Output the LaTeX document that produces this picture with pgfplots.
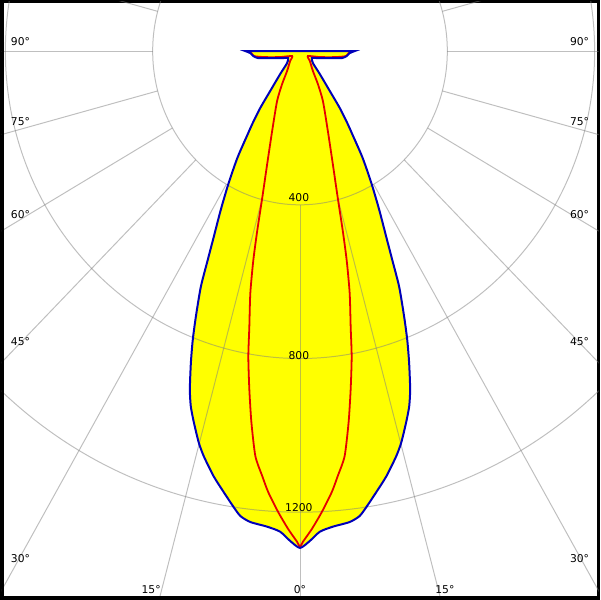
\documentclass[border=0pt]{standalone}
\usepackage{fontspec}
\setmainfont{DejaVu Sans}
\usepackage{pgfplots}
\usepackage{pgfplotstable}
\pgfplotsset{compat=1.18}
\definecolor{ldcblue}{RGB}{0,0,185}
\definecolor{ldcred}{RGB}{230,0,0}
\definecolor{ldcyellow}{RGB}{255,255,0}
\definecolor{gridgray}{RGB}{128,128,128}

% C0-C180 plane (outer curve), angle (deg) and intensity (cd)
\pgfplotstableread{
a I
-90 148
-87.8 135
-84.1 127
-80.9 115
-77.4 83
-68.4 49
-60.7 37
-48.4 47
-42.1 80
-37.99 131
-36.12 183
-34.38 229
-33.42 255
-31.49 325
-29.39 396
-27.48 467
-25.83 538
-24.74 599
-23.70 670
-22.25 747
-21.18 806
-20.08 863
-18.76 930
-17.78 971
-16.62 1008
-15.11 1055
-13.93 1086
-11.97 1131
-10.25 1166
-8.65 1200
-7.61 1221
-6.28 1233
-4.11 1241
-2.47 1252
-1.21 1275
0 1293
1.21 1275
2.47 1252
4.11 1241
6.28 1233
7.61 1221
8.65 1200
10.25 1166
11.97 1131
13.93 1086
15.11 1055
16.62 1008
17.78 971
18.76 930
20.08 863
21.18 806
22.25 747
23.70 670
24.74 599
25.83 538
27.48 467
29.39 396
31.49 325
33.42 255
34.38 229
36.12 183
37.99 131
42.1 80
48.4 47
60.7 37
68.4 49
77.4 83
80.9 115
84.1 127
87.8 135
90 148
}\cplane

% C90-C270 plane (inner curve)
\pgfplotstableread{
a I
-90 140
-87.7 132
-84 125
-80.7 96
-74 56
-59 25
-46.2 37
-34 63
-29.6 98
-25.6 144
-20 221
-16.9 306
-15.05 394
-13.96 481
-13.11 559
-12.09 644
-10.85 731
-10 808
-8.87 892
-7.78 975
-6.56 1061
-5.29 1111
-4.30 1151
-2.83 1201
-1.49 1244
-0.36 1277
0 1290
0.36 1277
1.49 1244
2.83 1201
4.30 1151
5.29 1111
6.56 1061
7.78 975
8.87 892
10 808
10.85 731
12.09 644
13.11 559
13.96 481
15.05 394
16.9 306
20 221
25.6 144
29.6 98
34 63
46.2 37
59 25
74 56
80.7 96
84 125
87.7 132
90 140
}\dplane

\begin{document}
\begin{tikzpicture}
\begin{axis}[
  width=300pt, height=300pt, scale only axis,
  xmin=-810.8, xmax=810.8, ymin=-1424.9, ymax=129.5,
  xtick=\empty, ytick=\empty,
  axis line style={black, line width=1.4pt},
  clip=true,
  font=\fontsize{5.4pt}{6.5pt}\selectfont,
]
% yellow area
\addplot[draw=none, fill=ldcyellow, smooth, tension=0.4] table[x expr={\thisrow{I}*sin(\thisrow{a})}, y expr={-\thisrow{I}*cos(\thisrow{a})}] {\cplane} -- cycle;
% grid
\draw[gridgray, opacity=0.5, line width=0.5pt] (axis cs:0,0) ellipse [x radius=400, y radius=400];
\draw[gridgray, opacity=0.5, line width=0.5pt] (axis cs:0,0) ellipse [x radius=800, y radius=800];
\draw[gridgray, opacity=0.5, line width=0.5pt] (axis cs:0,0) ellipse [x radius=1200, y radius=1200];
\pgfplotsinvokeforeach{0,15,...,345}{
  \draw[gridgray, opacity=0.5, line width=0.5pt] (axis cs:{400*sin(#1)},{-400*cos(#1)}) -- (axis cs:{3000*sin(#1)},{-3000*cos(#1)});
}
% curves
\addplot[ldcred, line width=0.9pt, smooth, tension=0.4] table[x expr={\thisrow{I}*sin(\thisrow{a})}, y expr={-\thisrow{I}*cos(\thisrow{a})}] {\dplane};
\addplot[ldcblue, line width=1pt, smooth, tension=0.4] table[x expr={\thisrow{I}*sin(\thisrow{a})}, y expr={-\thisrow{I}*cos(\thisrow{a})}] {\cplane} -- cycle;
% labels
\begin{scope}[every node/.style={inner sep=0pt}]
\node[anchor=south west] at (axis cs:-786,12) {90°};
\node[anchor=south west] at (axis cs:-786,-195) {75°};
\node[anchor=south west] at (axis cs:-786,-436) {60°};
\node[anchor=south west] at (axis cs:-786,-768) {45°};
\node[anchor=south west] at (axis cs:-786,-333) {};
\node[anchor=south west] at (axis cs:-786,-1333) {30°};
\node[anchor=south east] at (axis cs:786,12) {90°};
\node[anchor=south east] at (axis cs:786,-195) {75°};
\node[anchor=south east] at (axis cs:786,-436) {60°};
\node[anchor=south east] at (axis cs:786,-768) {45°};
\node[anchor=south east] at (axis cs:786,-1333) {30°};
\node[anchor=south] at (axis cs:-404.3,-1412) {15°};
\node[anchor=south] at (axis cs:0,-1412) {0°};
\node[anchor=south] at (axis cs:393.5,-1412) {15°};
\node[anchor=south] at (axis cs:-3,-393) {400};
\node[anchor=south] at (axis cs:-3,-803) {800};
\node[anchor=south] at (axis cs:-3,-1199) {1200};
\end{scope}
% heavier left and bottom frame
\fill[black] (rel axis cs:0,0) rectangle ([xshift=1.35pt]rel axis cs:0,1);
\fill[black] (rel axis cs:0,0) rectangle ([yshift=1.35pt]rel axis cs:1,0);
\end{axis}
\end{tikzpicture}
\end{document}
